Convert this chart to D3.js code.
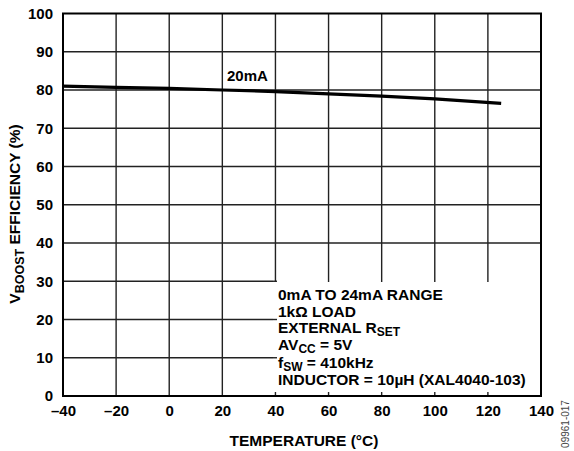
<!DOCTYPE html>
<html>
<head>
<meta charset="utf-8">
<script src="https://cdn.jsdelivr.net/npm/d3@7"></script>
<style>
  body { margin: 0; background: #fff; }
  svg { display: block; font-family: "Liberation Sans", Arial, sans-serif; }
  .tick text { font-weight: bold; font-size: 15px; fill: #000; }
</style>
</head>
<body>
<div id="chart"></div>
<script>
const temps = [-40, -20, 0, 20, 40, 60, 80, 100, 125];
const efficiency = [81.0, 80.7, 80.4, 80.0, 79.6, 79.0, 78.4, 77.7, 76.5];
const xTicks = [-40, -20, 0, 20, 40, 60, 80, 100, 120, 140];
const yTicks = [0, 10, 20, 30, 40, 50, 60, 70, 80, 90, 100];
const seriesLabel = '20mA';

const width = 574,
  height = 451,
  plotLeft = 63,
  plotRight = 541,
  plotTop = 13.5,
  plotBottom = 396;

const x = d3.scaleLinear().domain([-40, 140]).range([plotLeft, plotRight]);
const y = d3.scaleLinear().domain([0, 100]).range([plotBottom, plotTop]);

const svg = d3
  .select('#chart')
  .append('svg')
  .attr('width', width)
  .attr('height', height);

// grid
svg
  .append('g')
  .selectAll('line')
  .data(xTicks.slice(1, -1))
  .join('line')
  .attr('x1', (d) => x(d))
  .attr('x2', (d) => x(d))
  .attr('y1', plotTop)
  .attr('y2', plotBottom)
  .attr('stroke', '#222')
  .attr('stroke-width', 1.4);

svg
  .append('g')
  .selectAll('line')
  .data(yTicks.slice(1, -1))
  .join('line')
  .attr('x1', plotLeft)
  .attr('x2', plotRight)
  .attr('y1', (d) => y(d))
  .attr('y2', (d) => y(d))
  .attr('stroke', '#222')
  .attr('stroke-width', 1.4);

// note box masks the grid
const boxLeft = 273,
  boxTop = 278;
svg
  .append('rect')
  .attr('x', boxLeft)
  .attr('y', boxTop)
  .attr('width', plotRight - boxLeft)
  .attr('height', plotBottom - boxTop)
  .attr('fill', '#fff');

// small ticks left along the box edges
const boxX = xTicks.filter((d) => x(d) > boxLeft && d < 140);
svg
  .append('g')
  .selectAll('line')
  .data(boxX)
  .join('line')
  .attr('x1', (d) => x(d))
  .attr('x2', (d) => x(d))
  .attr('y1', plotBottom - 4)
  .attr('y2', plotBottom)
  .attr('stroke', '#222')
  .attr('stroke-width', 1.4);

svg
  .append('g')
  .selectAll('line')
  .data(boxX)
  .join('line')
  .attr('x1', (d) => x(d))
  .attr('x2', (d) => x(d))
  .attr('y1', boxTop)
  .attr('y2', boxTop + 4)
  .attr('stroke', '#222')
  .attr('stroke-width', 1.4);

svg
  .append('g')
  .selectAll('line')
  .data(yTicks.filter((d) => y(d) > boxTop && d > 0))
  .join('line')
  .attr('x1', boxLeft)
  .attr('x2', boxLeft + 4)
  .attr('y1', (d) => y(d))
  .attr('y2', (d) => y(d))
  .attr('stroke', '#222')
  .attr('stroke-width', 1.4);

// frame
svg
  .append('rect')
  .attr('x', plotLeft)
  .attr('y', plotTop)
  .attr('width', plotRight - plotLeft)
  .attr('height', plotBottom - plotTop)
  .attr('fill', 'none')
  .attr('stroke', '#000')
  .attr('stroke-width', 2);

// axes (labels only)
const xAxis = svg
  .append('g')
  .attr('transform', `translate(0, ${plotBottom})`)
  .call(
    d3
      .axisBottom(x)
      .tickValues(xTicks)
      .tickSize(0)
      .tickPadding(9)
      .tickFormat((d) => (d < 0 ? '\u2013' + Math.abs(d) : d))
  );
xAxis.select('.domain').remove();

const yAxis = svg
  .append('g')
  .attr('transform', `translate(${plotLeft}, 0)`)
  .call(d3.axisLeft(y).tickValues(yTicks).tickSize(0).tickPadding(10));
yAxis.select('.domain').remove();

// data line
const line = d3
  .line()
  .x((d, i) => x(temps[i]))
  .y((d) => y(d));

svg
  .append('path')
  .datum(efficiency)
  .attr('d', line)
  .attr('fill', 'none')
  .attr('stroke', '#000')
  .attr('stroke-width', 3.2);

svg
  .append('text')
  .attr('x', 227)
  .attr('y', 81)
  .attr('font-size', 15)
  .attr('font-weight', 'bold')
  .text(seriesLabel);

// notes
const noteLines = [
  [['0mA TO 24mA RANGE']],
  [['1k\u03A9 LOAD']],
  [['EXTERNAL R'], ['SET', 'sub']],
  [['AV'], ['CC', 'sub'], [' = 5V']],
  [['f'], ['SW', 'sub'], [' = 410kHz']],
  [['INDUCTOR = 10\u00B5H (XAL4040-103)']],
];
const noteBase = [300, 317, 333, 350, 368, 385];

noteLines.forEach((parts, i) => {
  const t = svg
    .append('text')
    .attr('x', 278)
    .attr('y', noteBase[i])
    .attr('font-size', 15.5)
    .attr('font-weight', 'bold');
  parts.forEach(([s, kind], j) => {
    const ts = t.append('tspan').text(s);
    if (kind === 'sub') ts.attr('dy', 3).attr('font-size', 12);
    else if (j > 0) ts.attr('dy', -3);
  });
});

// axis titles
svg
  .append('text')
  .attr('x', 304)
  .attr('y', 446)
  .attr('text-anchor', 'middle')
  .attr('font-size', 15.5)
  .attr('font-weight', 'bold')
  .text('TEMPERATURE (\u00B0C)');

const yTitle = svg
  .append('text')
  .attr('transform', `translate(20, 214) rotate(-90)`)
  .attr('text-anchor', 'middle')
  .attr('font-size', 15.5)
  .attr('font-weight', 'bold');
yTitle.append('tspan').text('V');
yTitle.append('tspan').attr('dy', 4).attr('font-size', 12.5).text('BOOST');
yTitle.append('tspan').attr('dy', -4).text(' EFFICIENCY (%)');

svg
  .append('text')
  .attr('transform', `translate(569, 424) rotate(-90)`)
  .attr('text-anchor', 'middle')
  .attr('font-size', 10)
  .attr('fill', '#444')
  .text('09961-017');
</script>
</body>
</html>
